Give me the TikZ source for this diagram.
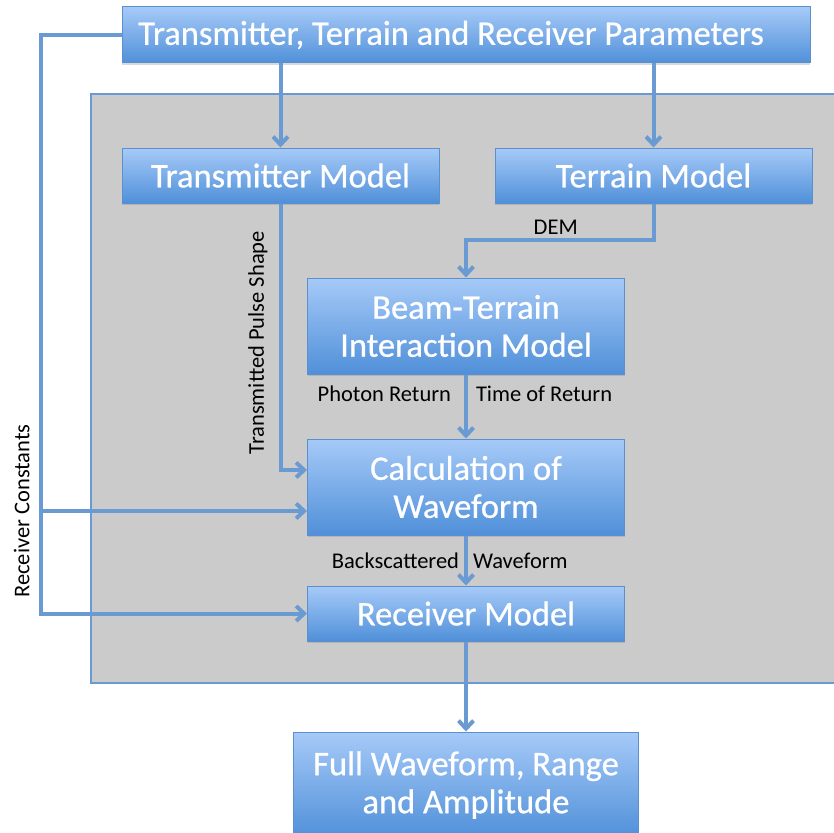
\documentclass[tikz,border=0pt]{standalone}
\usepackage{fontspec}
\setmainfont{Carlito}
\newfontfamily\boxfont{Carlito}[FakeBold=0.7]
\usetikzlibrary{positioning, arrows.meta, backgrounds, shadows}
\definecolor{boxtop}{RGB}{166,202,248}
\definecolor{boxbottom}{RGB}{80,144,217}
\definecolor{boxline}{RGB}{92,143,205}
\definecolor{linkblue}{RGB}{106,154,210}
\definecolor{panelgray}{RGB}{203,203,203}
\tikzstyle{block} = [
    rectangle,
    top color=boxtop,
    bottom color=boxbottom,
    draw=boxline,
    line width=1pt,
    minimum width=317pt,
    minimum height=55pt,
    text=white,
    align=center,
    font=\boxfont\fontsize{34.5}{38}\selectfont,
    drop shadow={shadow xshift=0pt, shadow yshift=-2pt, opacity=0.3}
]
\tikzstyle{tall} = [minimum height=96pt]
\tikzstyle{tag} = [
    text=black,
    inner sep=3pt,
    font=\fontsize{22.5}{26}\selectfont
]
\tikzstyle{panel} = [fill=panelgray, draw=linkblue, line width=2pt]
\tikzstyle{arrow} = [line width=4pt, draw=linkblue, -{Straight Barb[length=8pt,width=15pt]}]

\begin{document}
\begin{tikzpicture}[x=1pt, y=1pt]
\useasboundingbox (0,0) rectangle (834,-832);

\node (params) [block, minimum width=688pt, minimum height=56pt] at (466,-35)
{Transmitter, Terrain and Receiver Parameters\hspace*{30pt}};

\node (transmitter) [block, below=84pt of params.south west, anchor=north west]
{Transmitter Model};

\node (terrain) [block, right=55pt of transmitter]
{Terrain Model};

\node (beam) [block, tall, below=214pt of params]
{Beam-Terrain\\Interaction Model};

\node (calc) [block, tall, below=64pt of beam]
{Calculation of\\Waveform};

\node (receiver) [block, below=50pt of calc]
{Receiver Model};

\node (result) [block, minimum width=345pt, minimum height=106pt, below=90pt of receiver]
{Full Waveform, Range\\and Amplitude};

% grey model panel behind the inner blocks
\begin{scope}[on background layer]
\draw [panel] (91,-94) rectangle (860,-683);
\end{scope}

\coordinate (pulsein) at ([yshift=17pt]calc.west);
\coordinate (calcin) at ([yshift=-24pt]calc.west);

\draw [arrow] (params.south -| transmitter.north) -- (transmitter.north);
\draw [arrow] (params.south -| terrain.north) -- (terrain.north);

\draw [arrow] (terrain.south) -- ++(0,-36) -| node[tag, above, pos=0.25, xshift=-4pt]{DEM} (beam.north);
\draw [arrow] (transmitter.south) |- node[tag, pos=0.25, rotate=90, anchor=south, yshift=8pt, xshift=-6pt]{Transmitted Pulse Shape} (pulsein);

\draw [arrow] (beam) -- node[tag, pos=0.3, left, xshift=-10pt]{Photon Return} node[tag, pos=0.3, right, xshift=5pt]{Time of Return} (calc);
\draw [arrow] (calc) -- node[tag, left, xshift=-2pt]{Backscattered} node[tag, right, xshift=2pt]{Waveform} (receiver);
\draw [arrow] (receiver) -- (result);

\draw [arrow] (params.west) -- ++(-81,0) coordinate (rcbend) |- (receiver.west);
\draw [arrow] (calcin -| rcbend) node[tag, rotate=90, anchor=south, yshift=6pt]{Receiver Constants} -- (calcin);

\end{tikzpicture}
\end{document}
